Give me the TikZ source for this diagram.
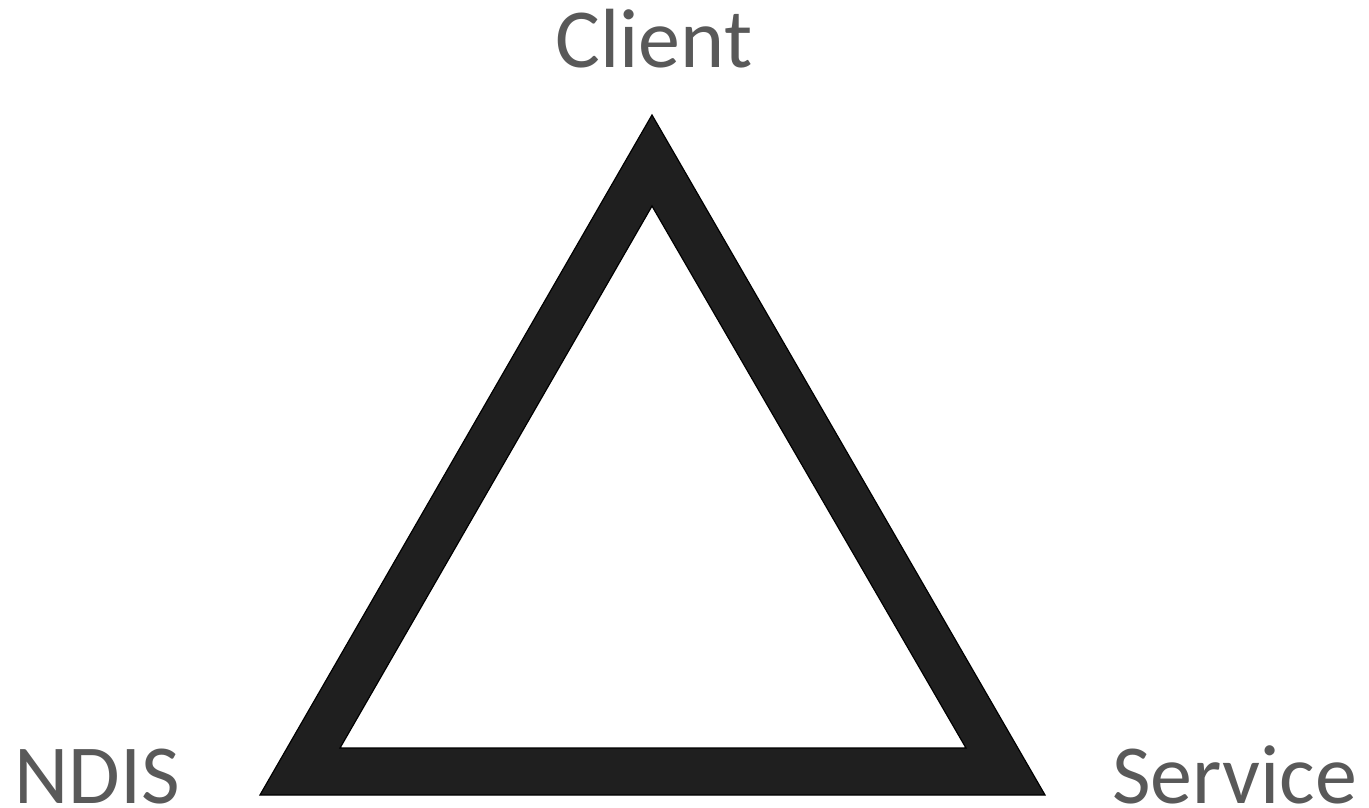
\documentclass[tikz,border=0pt]{standalone}
\usepackage{fontspec}
\setmainfont{Carlito}
\usepackage{xcolor}
\usetikzlibrary{calc}
\definecolor{labelgray}{HTML}{595959}
\definecolor{edgefill}{HTML}{1F1F1F}

\begin{document}
\begin{tikzpicture}[x=1pt,y=-1pt,
  vlabel/.style={inner sep=0pt,text=labelgray,font=\fontsize{84}{90}\selectfont}]
  \useasboundingbox (0,0) rectangle (1369,808);
  % outer and inner corners
  \coordinate (a) at (652,115); \coordinate (b) at (260,795); \coordinate (c) at (1045,795);
  \coordinate (ai) at (652,206); \coordinate (bi) at (340,748); \coordinate (ci) at (966,748);
  \filldraw[fill=edgefill,draw=black,line width=1.2pt,even odd rule,line join=miter]
    (a)--(b)--(c)--cycle (ai)--(bi)--(ci)--cycle;
  \node[vlabel,anchor=base] (client) at (654,68) {Client};
  \node[vlabel,anchor=base west] (ndis) at (14,803) {NDIS};
  \node[vlabel,anchor=base west] (service) at (1112,803) {Service};
\end{tikzpicture}
\end{document}
